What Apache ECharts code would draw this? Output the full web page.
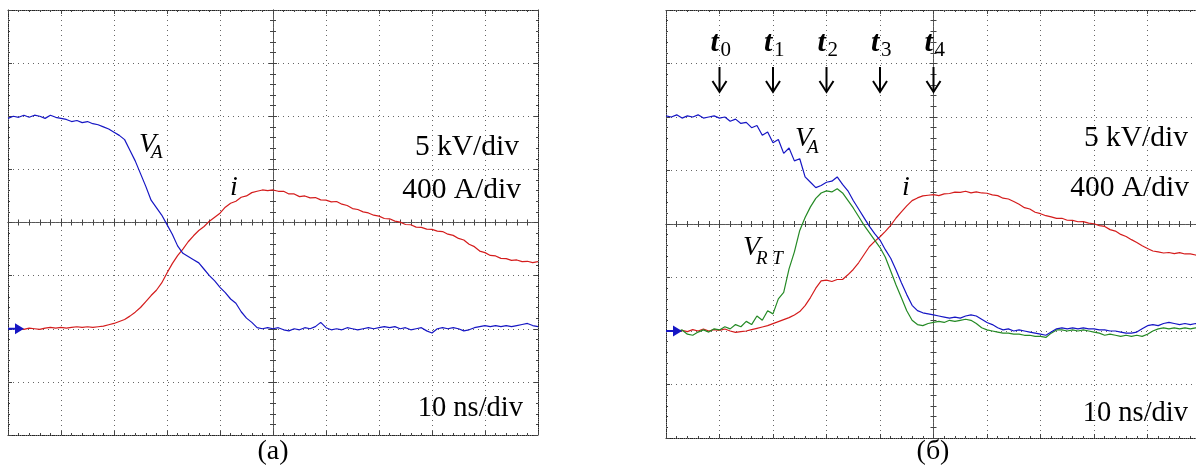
<!DOCTYPE html>
<html>
<head>
    <meta charset="utf-8" />
    <title>Oscillograms</title>
    <style>html, body { margin: 0; padding: 0; background: #fff; }</style>
</head>
<body>
<script src="https://cdn.jsdelivr.net/npm/echarts@6/dist/echarts.min.js"></script>
<div id="main" style="width: 1196px;height:468px;"></div>
<script type="text/javascript">
    // time base of both scope shots, ns (10 ns/div)
    var timeNs = [0,1,2,3,4,5,6,7,8,9,10,11,12,13,14,15,16,17,18,19,20,21,22,23,24,25,26,27,28,29,
        30,31,32,33,34,35,36,37,38,39,40,41,42,43,44,45,46,47,48,49,50,51,52,53,54,55,56,57,58,59,
        60,61,62,63,64,65,66,67,68,69,70,71,72,73,74,75,76,77,78,79,80,81,82,83,84,85,86,87,88,89,
        90,91,92,93,94,95,96,97,98,99,100];

    // (a) anode voltage V_A, kV (5 kV/div)
    var leftVA = [19.8,20.0,19.9,20.1,19.9,20.1,20.0,19.8,20.1,19.9,
        19.8,19.7,19.5,19.6,19.4,19.5,19.3,19.2,19.0,18.8,
        18.5,18.2,17.8,16.8,15.8,14.6,13.4,12.1,11.4,10.7,
        9.8,8.9,7.8,7.1,6.8,6.5,6.2,5.6,5.0,4.5,
        3.9,3.4,2.8,2.4,1.6,1.0,0.6,0.1,0.0,0.1,
        0.0,0.1,-0.1,-0.2,0.0,-0.1,0.1,0.0,0.2,0.6,
        0.1,-0.1,0.0,-0.1,0.1,0.0,-0.1,0.0,0.1,0.0,
        0.1,0.2,0.1,0.2,0.0,0.1,-0.1,0.0,0.1,-0.2,
        -0.4,0.0,0.1,0.0,0.1,0.0,-0.2,-0.1,0.1,0.2,
        0.3,0.2,0.3,0.2,0.3,0.2,0.3,0.4,0.5,0.3,
        0.2];
    // (a) current i, A (400 A/div)
    var leftI = [null,null,0,-5,5,0,-5,5,10,5,
        10,5,10,15,10,15,10,15,20,30,
        40,55,70,95,125,160,205,250,290,345,
        420,490,550,600,655,700,740,770,810,840,
        870,915,945,960,990,1000,1025,1035,1045,1040,
        1045,1035,1035,1015,1015,995,1000,985,988,970,
        968,955,958,938,928,905,898,880,872,855,
        848,830,828,810,803,785,783,765,763,750,
        748,735,732,712,703,680,668,636,618,585,
        573,552,548,530,528,515,518,505,508,498,
        505];

    // (б) anode voltage V_A, kV
    var rightVA = [20.1,20.0,20.2,19.9,20.1,20.0,20.2,19.9,20.0,20.1,
        19.9,20.0,19.6,19.8,19.4,19.5,19.0,19.2,18.3,18.6,
        17.6,17.9,16.6,17.1,15.9,16.1,14.4,13.9,13.4,13.6,
        13.9,14.0,14.4,13.7,13.1,12.2,11.4,10.6,9.8,9.1,
        8.5,7.6,6.8,5.7,4.5,3.4,2.4,1.9,1.7,1.6,
        1.5,1.4,1.3,1.2,1.3,1.2,1.4,1.5,1.4,1.1,
        0.8,0.6,0.3,0.1,0.2,0.0,0.1,0.0,-0.1,-0.2,
        -0.3,-0.4,-0.1,0.2,0.3,0.2,0.3,0.2,0.3,0.2,
        0.2,0.1,0.1,0.0,0.0,-0.1,-0.2,-0.2,-0.1,0.2,
        0.5,0.6,0.5,0.7,0.8,0.7,0.6,0.7,0.6,0.7,
        0.6];
    // (б) voltage V_RT, kV
    var rightVRT = [null,0.0,-0.1,0.1,-0.3,-0.4,-0.1,0.1,-0.1,0.2,
        0.1,0.4,0.2,0.6,0.4,0.9,0.6,1.4,1.0,1.9,
        1.6,3.0,3.6,5.8,7.4,9.4,10.6,11.6,12.4,12.9,
        13.1,13.0,13.3,12.9,12.2,11.5,10.7,9.9,9.2,8.5,
        7.8,6.9,5.6,4.3,3.1,1.9,1.0,0.6,0.5,0.7,
        0.8,0.9,0.8,1.0,0.9,1.0,1.1,1.0,0.7,0.3,
        0.1,0.0,-0.1,-0.2,-0.2,-0.3,-0.3,-0.4,-0.4,-0.5,
        -0.5,-0.6,-0.2,0.1,0.1,0.0,0.1,0.0,0.1,0.0,
        -0.1,-0.2,-0.4,-0.3,-0.4,-0.5,-0.4,-0.5,-0.4,-0.5,
        -0.3,0.0,0.2,0.3,0.2,0.3,0.2,0.3,0.2,0.3,
        0.3];
    // (б) current i, A
    var rightI = [null,0,-10,5,-5,10,0,15,0,10,
        5,15,0,-10,-5,0,10,20,30,40,
        55,70,85,100,120,145,190,250,320,375,
        380,370,385,385,420,460,510,570,630,670,
        705,745,790,845,890,935,975,995,1010,1015,
        1020,1012,1025,1028,1038,1036,1045,1033,1040,1032,
        1030,1018,1012,993,987,968,947,922,912,888,
        877,862,853,842,843,828,827,817,818,806,
        802,788,782,758,747,722,707,683,662,637,
        617,598,592,583,587,578,586,576,577,568,
        565];

    // instants marked on (б), ns
    var tMarks = [10, 20, 30, 40, 50];
    var tNames = ['0', '1', '2', '3', '4'];

    var SERIF = '"Liberation Serif", "Times New Roman", serif';
    var BLUE = '#1616c4', RED = '#d41c1c', GREEN = '#258a25';

    var grids = [
        {left: 8, top: 10, width: 530, height: 425, outerBoundsMode: 'none'},
        {left: 666, top: 10, width: 535, height: 428, outerBoundsMode: 'none'}
    ];

    var borderLine = {show: true, onZero: false, lineStyle: {color: '#222', width: 1, type: [1, 1]}};
    var centreLine = {show: true, onZero: false, lineStyle: {color: '#555', width: 1, type: [3, 1]}};
    var gridLine = {show: true, lineStyle: {color: '#666', width: 1, type: [1, 4]}};
    var tickStyle = {color: '#444', width: 1};

    function axis(gi, min, max, step, position, extra) {
        var a = {
            gridIndex: gi, type: 'value', min: min, max: max, interval: step,
            position: position, axisLabel: {show: false}, splitLine: {show: false},
            axisLine: borderLine,
            axisTick: {show: true, inside: true, length: 4, lineStyle: tickStyle},
            minorTick: {show: true, splitNumber: 5, length: 2, lineStyle: tickStyle}
        };
        return Object.assign(a, extra || {});
    }

    var xAxes = [], yAxes = [];
    grids.forEach(function (g, gi) {
        // frame, grid, and centre cross with ticks on both sides
        xAxes.push(axis(gi, 0, 100, 10, 'bottom', {splitLine: gridLine}));
        xAxes.push(axis(gi, 0, 100, 10, 'top'));
        xAxes.push(axis(gi, 0, 100, 10, 'bottom', {offset: -g.height / 2, axisLine: centreLine,
            minorTick: {show: true, splitNumber: 5, length: 3, lineStyle: tickStyle}}));
        xAxes.push(axis(gi, 0, 100, 10, 'bottom', {offset: -g.height / 2, axisLine: centreLine,
            axisTick: {show: true, inside: false, length: 4, lineStyle: tickStyle},
            minorTick: {show: true, splitNumber: 5, length: 3, lineStyle: tickStyle}}));
        yAxes.push(axis(gi, -10, 30, 5, 'left', {splitLine: gridLine}));
        yAxes.push(axis(gi, -800, 2400, 400, 'right'));
        yAxes.push(axis(gi, -10, 30, 5, 'left', {offset: -g.width / 2, axisLine: centreLine,
            minorTick: {show: true, splitNumber: 5, length: 3, lineStyle: tickStyle}}));
        yAxes.push(axis(gi, -10, 30, 5, 'left', {offset: -g.width / 2, axisLine: centreLine,
            axisTick: {show: true, inside: false, length: 4, lineStyle: tickStyle},
            minorTick: {show: true, splitNumber: 5, length: 3, lineStyle: tickStyle}}));
    });

    function pairs(vals) {
        return timeNs.map(function (t, k) { return [t, vals[k]]; });
    }

    // ground-level marker: short stub plus right-pointing triangle
    var groundMark = {
        symbol: 'path://M0,4.5 L7,4.5 L7,0 L16,5.5 L7,11 L7,6.5 L0,6.5 Z',
        symbolSize: [16, 11], symbolOffset: [8, 0],
        itemStyle: {color: BLUE}, label: {show: false}, silent: true,
        data: [{coord: [0, 0]}]
    };

    function trace(name, vals, color, xi, yi, mark) {
        var s = {
            name: name, type: 'line', xAxisIndex: xi, yAxisIndex: yi,
            data: pairs(vals), showSymbol: false, connectNulls: false,
            lineStyle: {color: color, width: 1.2}, itemStyle: {color: color},
            animation: false, z: 3
        };
        if (mark) s.markPoint = groundMark;
        return s;
    }

    var myChart = echarts.init(document.getElementById('main'));
    myChart.setOption({
        animation: false,
        grid: grids,
        xAxis: xAxes,
        yAxis: yAxes,
        series: [
            trace('i (a)', leftI, RED, 0, 1),
            trace('V_A (a)', leftVA, BLUE, 0, 0, true),
            trace('i (б)', rightI, RED, 4, 5),
            trace('V_RT (б)', rightVRT, GREEN, 4, 4),
            trace('V_A (б)', rightVA, BLUE, 4, 4, true)
        ]
    });

    // text placed by its baseline
    function label(x, base, text, size, opt) {
        opt = opt || {};
        var al = opt.align || 'left';
        return {
            type: 'text', silent: true, z: 100,
            style: {
                text: text, x: x, y: base - size * 0.34,
                font: (opt.italic ? 'italic ' : '') + (opt.bold ? 'bold ' : '') + size + 'px ' + SERIF,
                fill: '#000', align: al, textAlign: al,
                verticalAlign: 'middle', textVerticalAlign: 'middle'
            }
        };
    }

    var g = [];
    // panel (a)
    g.push(label(519, 157, '5 kV/div', 29.5, {align: 'right'}));
    g.push(label(521, 200, '400 A/div', 29.5, {align: 'right'}));
    g.push(label(523, 418, '10 ns/div', 28.5, {align: 'right'}));
    g.push(label(273, 461, '(a)', 28, {align: 'center'}));
    g.push(label(139, 154, 'V', 28, {italic: true}));
    g.push(label(151, 159, 'A', 19, {italic: true}));
    g.push(label(230, 197, 'i', 28, {italic: true}));
    // panel (б)
    g.push(label(1188, 148, '5 kV/div', 29.5, {align: 'right'}));
    g.push(label(1189, 198, '400 A/div', 29.5, {align: 'right'}));
    g.push(label(1188, 423, '10 ns/div', 28.5, {align: 'right'}));
    g.push(label(933, 461, '(б)', 28, {align: 'center'}));
    g.push(label(795, 148, 'V', 28, {italic: true}));
    g.push(label(807, 154, 'A', 19, {italic: true}));
    g.push(label(902, 197, 'i', 28, {italic: true}));
    g.push(label(743, 257, 'V', 28, {italic: true}));
    g.push(label(756, 265, 'R T', 19, {italic: true}));

    tMarks.forEach(function (t, k) {
        var cx = myChart.convertToPixel({xAxisIndex: 4}, t);
        g.push(label(cx - 9, 53, 't', 30, {italic: true, bold: true}));
        g.push(label(cx + 1, 58, tNames[k], 21));
        g.push({type: 'line', silent: true, z: 100,
            shape: {x1: cx, y1: 67, x2: cx, y2: 91},
            style: {stroke: '#000', lineWidth: 2}});
        g.push({type: 'polyline', silent: true, z: 100,
            shape: {points: [[cx - 7, 81], [cx, 92], [cx + 7, 81]]},
            style: {stroke: '#000', lineWidth: 2, fill: null}});
    });

    myChart.setOption({graphic: g});
</script>
</body>
</html>
